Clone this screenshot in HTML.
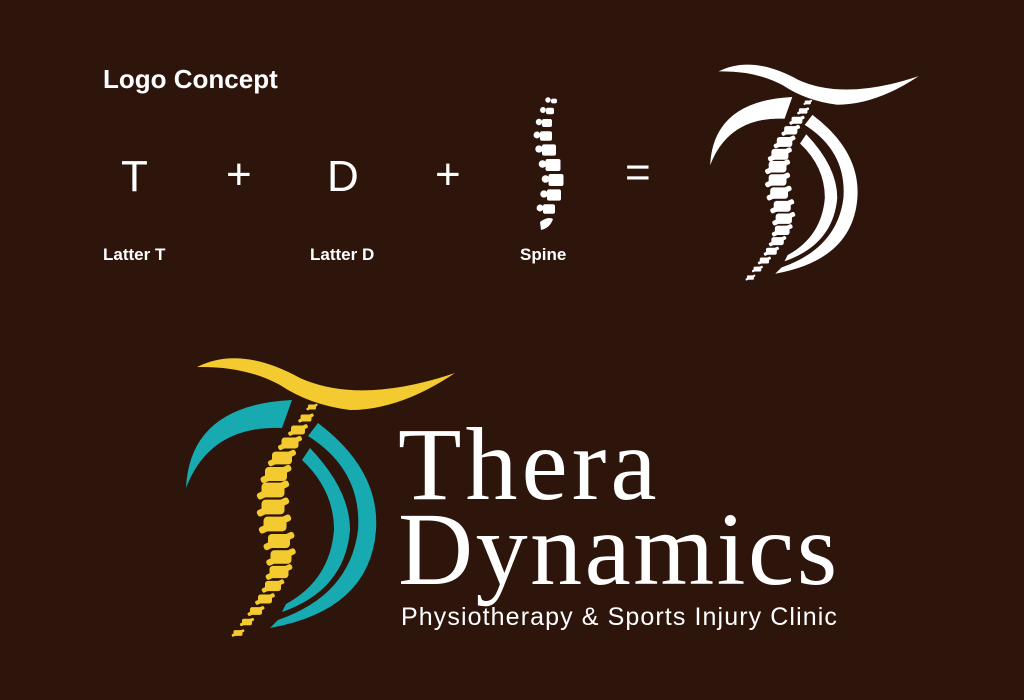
<!DOCTYPE html>
<html><head><meta charset="utf-8"><style>
html,body{margin:0;padding:0;background:#2e150c;}
body{width:1024px;height:700px;overflow:hidden;position:relative;font-family:"Liberation Sans",sans-serif;color:#fff;}
.t{position:absolute;white-space:nowrap;}
</style></head><body>
<div class="t" style="left:103px;top:64px;font-size:26px;font-weight:bold;">Logo Concept</div>
<div class="t" style="left:121px;top:152px;font-size:44px;">T</div>
<div class="t" style="left:226px;top:150px;font-size:44px;">+</div>
<div class="t" style="left:327px;top:152px;font-size:44px;">D</div>
<div class="t" style="left:435px;top:150px;font-size:44px;">+</div>
<div class="t" style="left:625px;top:148px;font-size:44px;">=</div>
<div class="t" style="left:103px;top:245px;font-size:17px;font-weight:bold;">Latter T</div>
<div class="t" style="left:310px;top:245px;font-size:17px;font-weight:bold;">Latter D</div>
<div class="t" style="left:520px;top:245px;font-size:17px;font-weight:bold;">Spine</div>
<div class="t" style="left:398px;top:413px;font-family:'Liberation Serif',serif;font-size:104px;line-height:104px;letter-spacing:4px;">Thera</div>
<div class="t" style="left:398px;top:498px;font-family:'Liberation Serif',serif;font-size:104px;line-height:104px;letter-spacing:2.5px;">Dynamics</div>
<div class="t" style="left:401px;top:603px;font-size:25px;letter-spacing:1.1px;">Physiotherapy &amp; Sports Injury Clinic</div>
<svg id="s" width="1024" height="700" style="position:absolute;left:0;top:0">
<g id="big"></g>
<g id="small" transform="translate(566,-213) scale(0.775)"></g>
<g id="icon" fill="#fff"></g>
</svg>
<script>
function logo(g,y,t,sp){
 var h='';
 h+='<path fill="'+y+'" d="M197,367 Q240,345 300,378 Q360,405 455,373 Q400,410 350,410 Q310,405 280,385 Q245,366 197,367Z"/>';
 h+='<path fill="'+t+'" d="M186,488 Q190,405 292,400 L282,428 Q210,425 186,488Z"/>';
 h+='<path fill="'+t+'" d="M318,423 Q380,470 376,530 Q370,610 270,628 L278,620 Q350,595 358,530 Q362,470 308,436Z"/>';
 h+='<path fill="'+t+'" d="M310,448 Q350,490 350,530 Q345,590 282,612 L286,604 Q330,580 334,530 Q334,490 302,460Z"/>';
 var pts=[[312,407,8],[306,418,11],[298,430,14],[290,443,17],[282,458,20],[276,474,22],[273,490,23],[273,507,23],[275,524,23],[279,541,22],[281,557,21],[279,572,19],[273,586,16],[265,599,14],[256,611,12],[247,622,10],[238,633,9]];
 pts.forEach(function(p){var w=p[2];h+='<g fill="'+sp+'"><rect x="'+(p[0]-w/2)+'" y="'+(p[1]-w*0.32)+'" width="'+w+'" height="'+(w*0.64)+'" rx="'+(w*0.18)+'"/><rect x="'+(p[0]-w*0.75)+'" y="'+(p[1]-w*0.15)+'" width="'+(w*1.5)+'" height="'+(w*0.3)+'" rx="'+(w*0.12)+'" transform="rotate(-25 '+p[0]+' '+p[1]+')"/></g>';});
 document.getElementById(g).innerHTML=h;
}
logo('big','#f3cb30','#17abb1','#f3cb30');
logo('small','#fff','#fff','#fff');
var ic='';
[[554,101,6],[550,111,8],[547,123,10],[546,136,12],[549,150,14],[553,165,15],[556,180,15],[554,195,14],[549,209,12]].forEach(function(p){var w=p[2];ic+='<rect x="'+(p[0]-w/2)+'" y="'+(p[1]-w*0.4)+'" width="'+w+'" height="'+(w*0.8)+'" rx="2"/><circle cx="'+(p[0]-w/2-3)+'" cy="'+(p[1]-1)+'" r="'+(2+w*0.12)+'"/>';});
ic+='<path d="M540,222 Q548,216 553,219 Q550,228 541,230Z"/>';
document.getElementById('icon').innerHTML=ic;
</script>
</body></html>
